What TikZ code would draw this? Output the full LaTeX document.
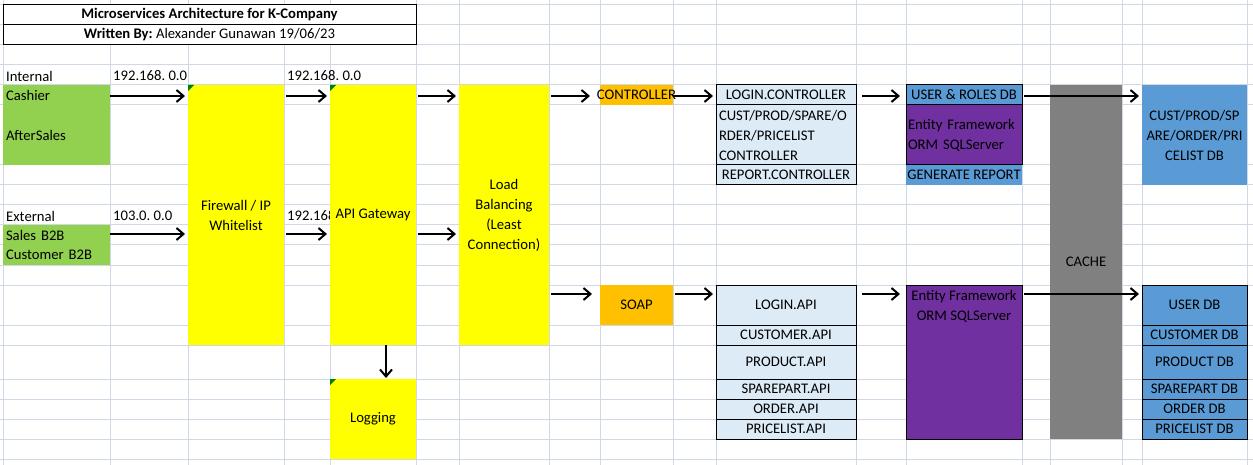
\documentclass[tikz,border=0pt]{standalone}
\usepackage{fontspec}
\setmainfont{Carlito}
\usetikzlibrary{arrows.meta, positioning}
\definecolor{gridgray}{RGB}{208,215,229}
\definecolor{cellgreen}{RGB}{146,208,80}
\definecolor{cellyellow}{RGB}{255,255,0}
\definecolor{cellorange}{RGB}{255,192,0}
\definecolor{paleblue}{RGB}{221,235,247}
\definecolor{dbblue}{RGB}{91,155,213}
\definecolor{ormpurple}{RGB}{112,48,160}
\definecolor{cachegray}{RGB}{128,128,128}
\definecolor{markgreen}{RGB}{0,128,0}
\newcommand{\sheetfont}{\fontsize{14.67}{20}\selectfont\frenchspacing}

\begin{document}
\begin{tikzpicture}[x=1pt, y=-1pt,
    cell/.style 2 args={rectangle, anchor=north west, inner sep=0pt, outer sep=0pt,
      minimum width=#1pt, minimum height=#2pt, align=center, font=\sheetfont},
    lcell/.style 2 args={cell={#1}{#2}, inner xsep=3pt, text width=\fpeval{#1-6}pt,
      align=left},
    txt/.style={anchor=west, inner sep=0pt, font=\sheetfont},
    boxed/.style={draw=black, line width=1pt},
    arr/.style={-{Straight Barb[length=7pt,width=12pt]}, line width=2pt,
      shorten <=2pt, shorten >=3pt}
  ]
  \useasboundingbox (0,0) rectangle (1253,465);

  % sheet grid
  \foreach \gx in {3,110,188,284,330,416,459,549,600,673,716,856,906,1022,1050,1122,1142,1247}
    \draw[gridgray, line width=1pt] (\gx,0) -- (\gx,465);
  \foreach \gy in {5,25,45,65,85,105,165,185,205,225,245,265,285,325,345,379,399,419,439,459}
    \draw[gridgray, line width=1pt] (0,\gy) -- (1253,\gy);

  % heading
  \node[cell={413}{20}, boxed, fill=white, font=\sheetfont\bfseries] (title) at (3,5)
    {Microservices Architecture for K-Company};
  \node[cell={413}{20}, boxed, fill=white, below=0pt of title] (author)
    {\textbf{Written By:} Alexander Gunawan 19/06/23};

  % clients
  \node[txt] (internal) at (6,76) {Internal};
  \node[txt] (ipint) at (113,76) {192.168. 0.0};
  \node[txt] (ipgw) at (287,76) {192.168. 0.0};
  \node[lcell={107}{20}, fill=cellgreen] (cashier) at (3,85) {Cashier};
  \node[lcell={107}{60}, fill=cellgreen, below=0pt of cashier] (aftersales) {AfterSales};
  \node[txt] (external) at (6,216) {External};
  \node[txt] (ipext) at (113,216) {103.0. 0.0};
  \node[txt] (ipgwext) at (287,216) {192.168};
  \node[lcell={107}{20}, fill=cellgreen] (salesb2b) at (3,225) {Sales B2B};
  \node[lcell={107}{20}, fill=cellgreen, below=0pt of salesb2b] (custb2b) {Customer B2B};

  % edge layers
  \node[cell={96}{260}, fill=cellyellow] (firewall) at (188,85) {Firewall / IP\\Whitelist};
  \node[cell={86}{260}, fill=cellyellow] (gateway) at (330,85) {API Gateway};
  \node[cell={86}{80}, fill=cellyellow] (logging) at (330,379) {Logging};
  \node[cell={90}{260}, fill=cellyellow] (loadbal) at (459,85)
    {Load\\Balancing\\(Least\\Connection)};
  \fill[markgreen] (firewall.north west) -- ++(6,0) -- ++(-6,6) -- cycle;
  \fill[markgreen] (gateway.north west) -- ++(6,0) -- ++(-6,6) -- cycle;
  \fill[markgreen] (logging.north west) -- ++(6,0) -- ++(-6,6) -- cycle;

  % services
  \node[cell={73}{20}, fill=cellorange] (controller) at (600,85) {};
  \node[font=\sheetfont, inner sep=0pt] (controllertext) at (controller.center) {CONTROLLER};
  \node[cell={73}{40}, fill=cellorange] (soap) at (600,285) {SOAP};

  \node[cell={140}{20}, boxed, fill=paleblue] (loginctrl) at (716,85) {LOGIN.CONTROLLER};
  \node[lcell={140}{60}, boxed, fill=paleblue, below=0pt of loginctrl] (custctrl)
    {CUST/PROD/SPARE/O\\RDER/PRICELIST\\CONTROLLER};
  \node[cell={140}{20}, boxed, fill=paleblue, below=0pt of custctrl] (reportctrl)
    {REPORT.CONTROLLER};

  \node[cell={140}{40}, boxed, fill=paleblue] (loginapi) at (716,285) {LOGIN.API};
  \node[cell={140}{20}, boxed, fill=paleblue, below=0pt of loginapi] (custapi) {CUSTOMER.API};
  \node[cell={140}{34}, boxed, fill=paleblue, below=0pt of custapi] (prodapi) {PRODUCT.API};
  \node[cell={140}{20}, boxed, fill=paleblue, below=0pt of prodapi] (spareapi) {SPAREPART.API};
  \node[cell={140}{20}, boxed, fill=paleblue, below=0pt of spareapi] (orderapi) {ORDER.API};
  \node[cell={140}{20}, boxed, fill=paleblue, below=0pt of orderapi] (priceapi) {PRICELIST.API};

  % data access
  \node[cell={116}{20}, boxed, fill=dbblue] (userroles) at (906,85) {USER \& ROLES DB};
  \node[lcell={116}{60}, boxed, fill=ormpurple, inner xsep=2pt, text width=112pt,
    below=0pt of userroles] (ormtop) {Entity Framework\\ORM SQLServer};
  \node[cell={116}{20}, fill=dbblue, below=0pt of ormtop] (genreport) {GENERATE REPORT};
  \node[cell={116}{154}, boxed, fill=ormpurple] (ormapi) at (906,285) {};
  \node[font=\sheetfont, anchor=north, align=center, inner sep=0pt] (ormapitext)
    at ([yshift=-5pt]ormapi.north) {Entity Framework\\ORM SQLServer};

  \node[cell={72}{354}, fill=cachegray] (cache) at (1050,85) {CACHE};

  % databases
  \node[cell={105}{100}, fill=dbblue] (custdb) at (1142,85)
    {CUST/PROD/SP\\ARE/ORDER/PRI\\CELIST DB};
  \node[cell={105}{40}, boxed, fill=dbblue] (userdb) at (1142,285) {USER DB};
  \node[cell={105}{20}, boxed, fill=dbblue, below=0pt of userdb] (customerdb) {CUSTOMER DB};
  \node[cell={105}{34}, boxed, fill=dbblue, below=0pt of customerdb] (productdb) {PRODUCT DB};
  \node[cell={105}{20}, boxed, fill=dbblue, below=0pt of productdb] (sparedb) {SPAREPART DB};
  \node[cell={105}{20}, boxed, fill=dbblue, below=0pt of sparedb] (orderdb) {ORDER DB};
  \node[cell={105}{20}, boxed, fill=dbblue, below=0pt of orderdb] (pricedb) {PRICELIST DB};

  % connectors
  \coordinate (rowint) at (0,96);
  \coordinate (rowext) at (0,234);
  \coordinate (rowsoap) at (0,294);
  \draw[arr, shorten <=0pt] (cashier.east |- rowint) -- (firewall.west |- rowint);
  \draw[arr, shorten <=0pt] (salesb2b.east |- rowext) -- (firewall.west |- rowext);
  \draw[arr] (firewall.east |- rowint) -- (gateway.west |- rowint);
  \draw[arr] (firewall.east |- rowext) -- (gateway.west |- rowext);
  \draw[arr] (gateway.east |- rowint) -- (loadbal.west |- rowint);
  \draw[arr] (gateway.east |- rowext) -- (loadbal.west |- rowext);
  \draw[arr, shorten >=10pt] (loadbal.east |- rowint) -- (controller.west |- rowint);
  \draw[arr, shorten >=8pt] (loadbal.east |- rowsoap) -- (soap.west |- rowsoap);
  \draw[arr, shorten <=0pt] (controller.east |- rowint) -- (loginctrl.west |- rowint);
  \draw[arr] (soap.east |- rowsoap) -- (loginapi.west |- rowsoap);
  \draw[arr, shorten <=6pt, shorten >=6pt] (loginctrl.east |- rowint) -- (userroles.west |- rowint);
  \draw[arr, shorten <=6pt, shorten >=6pt] (loginapi.east |- rowsoap) -- (ormapi.west |- rowsoap);
  \draw[arr] (userroles.east |- rowint) -- (custdb.west |- rowint);
  \draw[arr] (ormapi.east |- rowsoap) -- (userdb.west |- rowsoap);
  \draw[arr, shorten <=0pt, shorten >=1pt] ([xshift=13pt]gateway.south) -- ([xshift=13pt]logging.north);
\end{tikzpicture}
\end{document}
